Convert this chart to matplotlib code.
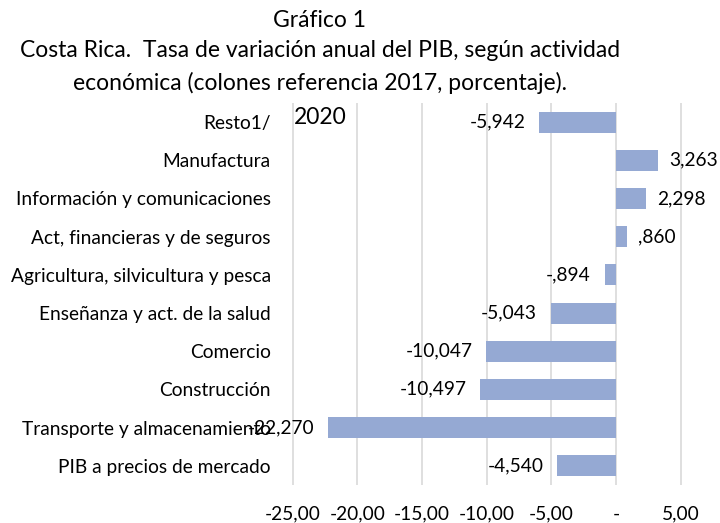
import matplotlib
matplotlib.use("Agg")
import matplotlib.pyplot as plt
from matplotlib.ticker import FuncFormatter

plt.rcParams["font.family"] = ["Lato", "DejaVu Sans"]

categorias = [
    "Resto1/",
    "Manufactura",
    "Información y comunicaciones",
    "Act, financieras y de seguros",
    "Agricultura, silvicultura y pesca",
    "Enseñanza y act. de la salud",
    "Comercio",
    "Construcción",
    "Transporte y almacenamiento",
    "PIB a precios de mercado",
]
variacion_2020 = [-5.942, 3.263, 2.298, 0.860, -0.894, -5.043, -10.047, -10.497, -22.270, -4.540]
ticks_x = [-25, -20, -15, -10, -5, 0, 5]


def fmt_valor(v):
    # formato contable: coma decimal, sin cero inicial
    s = f"{abs(v):.3f}".replace(".", ",")
    if s.startswith("0"):
        s = s[1:]
    return ("-" if v < 0 else "") + s


def fmt_eje(v, pos):
    if abs(v) < 1e-9:
        return "-"
    return f"{v:.2f}".replace(".", ",")


fig = plt.figure(figsize=(7.2, 5.23), dpi=100)
ax = fig.add_axes([0.403, 0.073, 0.548, 0.730])

y = list(range(len(categorias)))
ax.barh(y, variacion_2020, height=0.55, color="#95A9D3", zorder=3)
ax.set_ylim(len(categorias) - 0.5, -0.5)
ax.set_xlim(-25.2, 5.3)
ax.set_xticks(ticks_x)
ax.xaxis.set_major_formatter(FuncFormatter(fmt_eje))
ax.set_yticks(y)
ax.set_yticklabels(categorias)
ax.tick_params(axis="both", length=0, labelsize=13.8)
ax.tick_params(axis="y", pad=14)
ax.tick_params(axis="x", pad=15)
ax.grid(axis="x", color="#D9D9D9", linewidth=1.2, zorder=0)
for s in ax.spines.values():
    s.set_visible(False)

for yi, v in zip(y, variacion_2020):
    if v < 0:
        ax.annotate(fmt_valor(v), (v, yi), xytext=(-10, 0), textcoords="offset points",
                    ha="right", va="center", fontsize=13.8)
    else:
        ax.annotate(fmt_valor(v), (v, yi), xytext=(8, 0), textcoords="offset points",
                    ha="left", va="center", fontsize=13.8)

ax.text(0.01, 0.99, "2020", transform=ax.transAxes, ha="left", va="top", fontsize=16.5)

fig.text(0.444, 0.96, "Gráfico 1", ha="center", va="center", fontsize=16.5)
fig.text(0.444, 0.903, "Costa Rica.  Tasa de variación anual del PIB, según actividad",
         ha="center", va="center", fontsize=16.5)
fig.text(0.444, 0.842, "económica (colones referencia 2017, porcentaje).",
         ha="center", va="center", fontsize=16.5)

fig.savefig("out.png", dpi=100)
